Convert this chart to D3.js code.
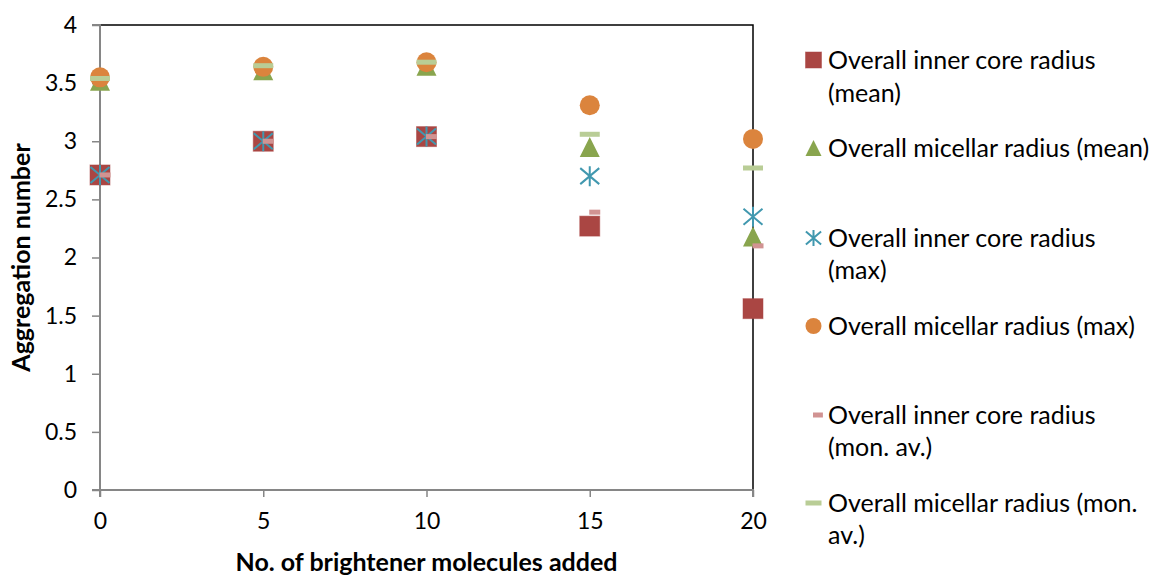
<!DOCTYPE html>
<html><head><meta charset="utf-8">
<script src="https://cdn.jsdelivr.net/npm/d3@7"></script>
<style>
body{margin:0;background:#fff;}
svg{display:block;font-family:Lato, "Open Sans", sans-serif;}
</style></head>
<body><svg id="c" width="1155" height="575"></svg>
<script>
const xValues = [0, 5, 10, 15, 20];
const innerMean = [2.71, 3.0, 3.04, 2.27, 1.56];
const micellarMean = [3.52, 3.61, 3.65, 2.95, 2.18];
const innerMax = [2.71, 3.0, 3.04, 2.70, 2.35];
const micellarMax = [3.55, 3.64, 3.68, 3.31, 3.02];
const innerMonAv = [2.71, 3.0, 3.04, 2.39, 2.10];
const micellarMonAv = [3.54, 3.65, 3.68, 3.06, 2.77];
const seriesNames = ["Overall inner core radius (mean)","Overall micellar radius (mean)","Overall inner core radius (max)","Overall micellar radius (max)","Overall inner core radius (mon. av.)","Overall micellar radius (mon. av.)"];
const legendLines = [["Overall inner core radius","(mean)"],["Overall micellar radius (mean)"],["Overall inner core radius","(max)"],["Overall micellar radius (max)"],["Overall inner core radius","(mon. av.)"],["Overall micellar radius (mon.","av.)"]];
const yTicks = [0,0.5,1,1.5,2,2.5,3,3.5,4];
const xTicks = [0,5,10,15,20];
const xTitle = "No. of brightener molecules added";
const yTitle = "Aggregation number";

const series = [
 {name:seriesNames[0], values:innerMean, shape:"square", color:"#AA4643"},
 {name:seriesNames[1], values:micellarMean, shape:"triangle", color:"#89A54E"},
 {name:seriesNames[2], values:innerMax, shape:"star", color:"#4198AF"},
 {name:seriesNames[3], values:micellarMax, shape:"circle", color:"#DB843D"},
 {name:seriesNames[4], values:innerMonAv, shape:"halfdash", color:"#D19392"},
 {name:seriesNames[5], values:micellarMonAv, shape:"dash", color:"#B9CD96"}
];

const svg = d3.select("#c");
const x = d3.scaleLinear().domain([0,20]).range([100,753]);
const y = d3.scaleLinear().domain([0,4]).range([490,25]);

// plot border (top/right)
svg.append("path").attr("d",`M${x(0)},${y(4)}H${x(20)}V${y(0)}`).attr("fill","none").attr("stroke","#000").attr("stroke-width",1.5);

const yAxis = svg.append("g").attr("transform",`translate(${x(0)},0)`)
  .call(d3.axisLeft(y).tickValues(yTicks).tickSize(8).tickPadding(15).tickFormat(d=>String(d)));
const xAxis = svg.append("g").attr("transform",`translate(0,${y(0)})`)
  .call(d3.axisBottom(x).tickValues(xTicks).tickSize(7).tickPadding(16).tickFormat(d=>String(d)));
[yAxis,xAxis].forEach(g=>{
  g.select(".domain").attr("stroke","#868686").attr("stroke-width",2);
  g.selectAll(".tick line").attr("stroke","#868686").attr("stroke-width",1.5);
  g.selectAll(".tick text").attr("fill","#000").style("font-size","23px").style("font-family","Lato, 'Open Sans', sans-serif");
});
xAxis.select(".domain").attr("d",`M${x(0)},7V0H${x(20)}V7`);
yAxis.select(".domain").attr("d",`M-8,${y(4)}H0V${y(0)}H-8`);

function drawMarker(g, shape, color, s){
  const h = s/2;
  if(shape==="square") g.append("rect").attr("x",-h).attr("y",-h).attr("width",s).attr("height",s).attr("fill",color).attr("stroke",color).attr("stroke-opacity",0.5);
  else if(shape==="triangle") g.append("path").attr("d",`M0,${-h}L${h},${h}L${-h},${h}Z`).attr("fill",color);
  else if(shape==="circle") g.append("circle").attr("r",h).attr("fill",color);
  else if(shape==="star"){
    const dx = h*0.95, dy = h*0.8;
    g.append("path").attr("d",`M0,${-h}V${h}M${-dx},${-dy}L${dx},${dy}M${dx},${-dy}L${-dx},${dy}`).attr("stroke",color).attr("stroke-width",2).attr("fill","none");
  }
  else if(shape==="dash") g.append("rect").attr("x",-h).attr("y",-2.5).attr("width",s).attr("height",5).attr("fill",color);
  else if(shape==="halfdash") g.append("rect").attr("x",-0.5).attr("y",-2.5).attr("width",s*0.55).attr("height",5).attr("fill",color);
}

series.forEach(sr=>{
  const g = svg.append("g");
  sr.values.forEach((v,i)=>{
    const m = g.append("g").attr("transform",`translate(${x(xValues[i])},${y(v)})`);
    drawMarker(m, sr.shape, sr.color, 20);
  });
});

// legend
const legendY = [[60,93],[148],[238,270],[326],[415,447],[503,535]];
const leg = svg.append("g");
series.forEach((sr,i)=>{
  const m = leg.append("g").attr("transform",`translate(813.5,${legendY[i][0]})`);
  drawMarker(m, sr.shape, sr.color, sr.shape==="halfdash"?18:16);
  legendLines[i].forEach((t,j)=>{
    leg.append("text").attr("x",828).attr("y",legendY[i][j]).attr("dy","0.35em")
      .style("font-size","25px").text(t);
  });
});

svg.append("text").attr("x",(x(0)+x(20))/2).attr("y",562).attr("dy","0.35em").attr("text-anchor","middle")
  .style("font-size","25px").style("font-weight","bold").text(xTitle);
svg.append("text").attr("transform",`translate(21,${(y(0)+y(4))/2}) rotate(-90)`).attr("dy","0.35em").attr("text-anchor","middle")
  .style("font-size","25px").style("font-weight","bold").text(yTitle);
</script></body></html>
